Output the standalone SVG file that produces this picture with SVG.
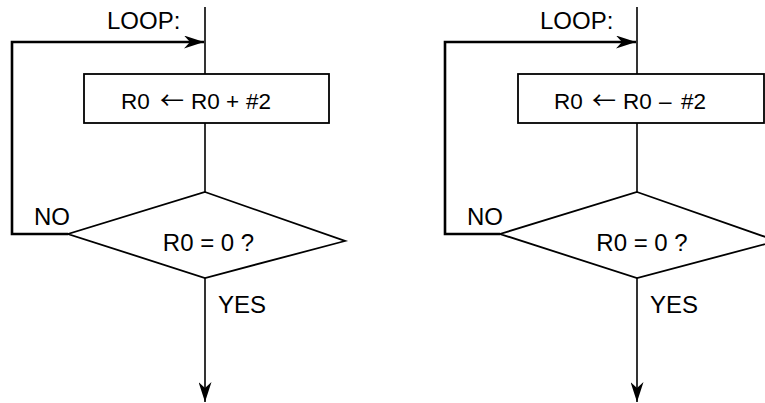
<svg xmlns="http://www.w3.org/2000/svg" width="765" height="403" viewBox="0 0 765 403">
<style>
.ln{fill:none;stroke:#000;stroke-width:1.6}
.loop{fill:none;stroke:#000;stroke-width:2.6}
.sh{fill:#fff;stroke:#000;stroke-width:1.8}
text{font-family:"Liberation Sans",Arial,sans-serif;font-size:24px;fill:#000}
.bx{font-size:22.5px}
.arr{font-family:"Noto Sans CJK JP",sans-serif;font-size:24px}
</style>
<defs>
<marker id="ah" markerWidth="20" markerHeight="13" refX="20" refY="6.5" orient="auto" markerUnits="userSpaceOnUse">
<path d="M0,0 L20,6.5 L0,13 L6,6.5 Z" fill="#000"/>
</marker>
</defs>
<g id="connectors">
<path class="ln" d="M205,7 V74"/>
<path class="ln" d="M205,123 V192"/>
<path class="ln" d="M205,278 V402" marker-end="url(#ah)"/>
<path class="loop" d="M68,234 H12 V42 H204" marker-end="url(#ah)"/>
<path class="ln" d="M637,7 V74"/>
<path class="ln" d="M637,123 V192"/>
<path class="ln" d="M637,278 V402" marker-end="url(#ah)"/>
<path class="loop" d="M500,234 H445 V42 H636" marker-end="url(#ah)"/>
</g>
<g id="loop1-label"><text x="107" y="29">LOOP:</text></g>
<g id="add-box">
<rect class="sh" x="84" y="74" width="245" height="49"/>
<text class="bx" y="109"><tspan x="121">R0</tspan><tspan class="arr" x="160">←</tspan><tspan x="191">R0</tspan><tspan x="226">+</tspan><tspan x="246">#2</tspan></text>
</g>
<g id="test1">
<path class="sh" d="M205,192 L345,241 L205,278 L68,234 Z"/>
<text x="208.5" y="251" text-anchor="middle">R0 = 0 ?</text>
</g>
<g id="no1-label"><text x="34" y="225">NO</text></g>
<g id="yes1-label"><text x="218" y="313">YES</text></g>
<g id="loop2-label"><text x="540" y="29">LOOP:</text></g>
<g id="sub-box">
<rect class="sh" x="518" y="74" width="246" height="49"/>
<text class="bx" y="109"><tspan x="554">R0</tspan><tspan class="arr" x="592">←</tspan><tspan x="623">R0</tspan><tspan x="659">–</tspan><tspan x="681">#2</tspan></text>
</g>
<g id="test2">
<path class="sh" d="M637,192 L777,241 L637,278 L500,234 Z"/>
<text x="642" y="251" text-anchor="middle">R0 = 0 ?</text>
</g>
<g id="no2-label"><text x="467" y="225">NO</text></g>
<g id="yes2-label"><text x="650" y="313">YES</text></g>
</svg>
